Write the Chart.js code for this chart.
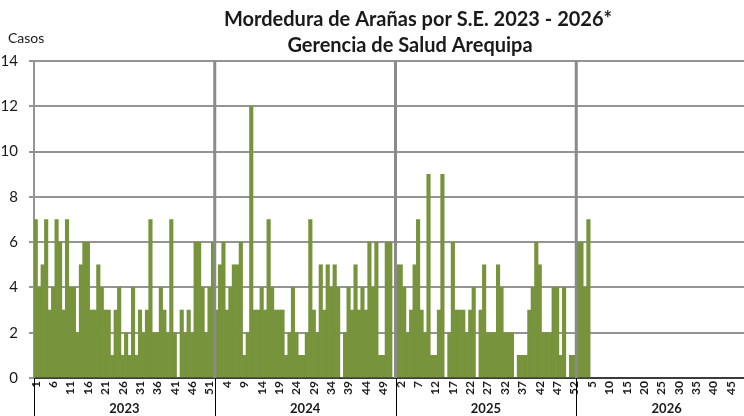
<!DOCTYPE html>
<html>
<head>
<meta charset="utf-8">
<script src="https://cdn.jsdelivr.net/npm/chart.js@4.4.1/dist/chart.umd.min.js"></script>
<style>
  html, body { margin: 0; padding: 0; background: #fff; overflow: hidden; }
  #wrap { width: 744px; height: 416px; overflow: hidden; }
</style>
</head>
<body>
<div id="wrap"><canvas id="chart" width="760" height="416"></canvas></div>
<script>
// weekly cases (S.E. = semana epidemiologica)
const years = ['2023', '2024', '2025', '2026'];
const weeksPerYear = 52;

const cases2023 = [7, 4, 5, 7, 3, 4, 7, 6, 3, 7, 4, 4, 2, 5, 6, 6, 3, 3, 5, 4, 3, 3, 1, 3, 4, 1,
                   2, 1, 4, 1, 3, 2, 3, 7, 2, 2, 4, 3, 2, 7, 2, 0, 3, 2, 3, 2, 6, 6, 4, 2, 4, 6];
const cases2024 = [3, 5, 6, 3, 4, 5, 5, 6, 1, 2, 12, 3, 3, 4, 3, 7, 4, 3, 3, 3, 1, 2, 4, 2, 1, 1,
                   2, 7, 3, 2, 5, 3, 5, 4, 5, 4, 0, 2, 4, 3, 5, 3, 4, 3, 6, 4, 6, 1, 1, 6, 6, 0];
const cases2025 = [5, 5, 4, 2, 3, 5, 7, 3, 2, 9, 1, 1, 3, 9, 0, 2, 6, 3, 3, 3, 2, 3, 4, 0, 3, 5,
                   2, 2, 2, 5, 4, 2, 2, 2, 0, 1, 1, 1, 3, 4, 6, 5, 2, 2, 2, 4, 4, 1, 4, 0, 1, 1];
const cases2026 = [6, 6, 4, 7];

const yMax = 14;
const yStep = 2;
const labelEvery = 5;

const barColor = '#77933c';
const font = 'Lato';

// category labels: week number inside each year
const weekLabels = [];
years.forEach(() => {
  for (let w = 1; w <= weeksPerYear; w++) weekLabels.push(String(w));
});

const values = [].concat(cases2023, cases2024, cases2025, cases2026);
while (values.length < weekLabels.length) values.push(null);

const decor = {
  id: 'decor',
  afterDatasetsDraw(chart) {
    const { ctx, chartArea: a, scales: { x } } = chart;
    const half = (x.getPixelForValue(1) - x.getPixelForValue(0)) / 2;
    ctx.save();
    // year separators across the plot
    ctx.strokeStyle = '#8a8a8a';
    ctx.lineWidth = 3;
    for (let k = 1; k < years.length; k++) {
      const px = x.getPixelForValue(k * weeksPerYear) - half;
      ctx.beginPath();
      ctx.moveTo(px, a.top);
      ctx.lineTo(px, a.bottom);
      ctx.stroke();
    }
    ctx.restore();
  },
  afterDraw(chart) {
    const { ctx, chartArea: a, scales: { x } } = chart;
    const half = (x.getPixelForValue(1) - x.getPixelForValue(0)) / 2;
    const H = chart.height;
    ctx.save();
    // year group boxes under the axis
    ctx.strokeStyle = '#000';
    ctx.lineWidth = 1;
    const edges = [];
    for (let k = 0; k <= years.length; k++) {
      edges.push(x.getPixelForValue(Math.min(k * weeksPerYear, weekLabels.length - 1)) + (k === years.length ? half : -half));
    }
    for (let k = 0; k < years.length; k++) {
      const px = Math.round(edges[k]) + 0.5;
      ctx.beginPath();
      ctx.moveTo(px, a.bottom);
      ctx.lineTo(px, H);
      ctx.stroke();
    }
    ctx.fillStyle = '#1a1a1a';
    ctx.font = 'bold 13px ' + font;
    ctx.textAlign = 'center';
    ctx.textBaseline = 'middle';
    years.forEach((yr, k) => {
      ctx.fillText(yr, (edges[k] + edges[k + 1]) / 2, 409);
    });

    // titles
    ctx.font = 'bold 20px ' + font;
    ctx.fillText('Mordedura de Arañas por S.E. 2023 - 2026*', 418, 20);
    ctx.fillText('Gerencia de Salud Arequipa', 410, 46);

    ctx.font = '14px ' + font;
    ctx.textAlign = 'left';
    ctx.fillText('Casos', 8, 38);
    ctx.restore();
  }
};

new Chart(document.getElementById('chart'), {
  type: 'bar',
  data: {
    labels: weekLabels,
    datasets: [{
      label: 'Casos',
      data: values,
      backgroundColor: barColor,
      borderWidth: 0,
      barPercentage: 1,
      categoryPercentage: 1
    }]
  },
  options: {
    responsive: false,
    devicePixelRatio: 1,
    animation: false,
    layout: { padding: { top: 61, left: 0, right: 3, bottom: 0 } },
    plugins: {
      legend: { display: false },
      tooltip: { enabled: false },
      title: { display: false }
    },
    scales: {
      x: {
        afterFit: s => { s.height = 38; s.paddingLeft = 0; s.paddingRight = 0; },
        grid: { display: false, drawTicks: false },
        border: { display: true, color: '#3c3c3c', width: 2 },
        ticks: {
          autoSkip: false,
          minRotation: 90,
          maxRotation: 90,
          padding: 3,
          color: '#1a1a1a',
          font: { family: font, size: 12, weight: 'bold' },
          callback: (v, i) => (i % labelEvery === 0 ? weekLabels[i] : '')
        }
      },
      y: {
        min: 0,
        max: yMax,
        afterFit: s => { s.width = 34; s.paddingTop = 0; s.paddingBottom = 0; },
        grid: { color: '#949494', lineWidth: 2, tickLength: 5 },
        border: { color: '#949494', width: 2 },
        ticks: {
          stepSize: yStep,
          padding: 11,
          color: '#1a1a1a',
          font: { family: font, size: 15 }
        }
      }
    }
  },
  plugins: [decor]
});
</script>
</body>
</html>
